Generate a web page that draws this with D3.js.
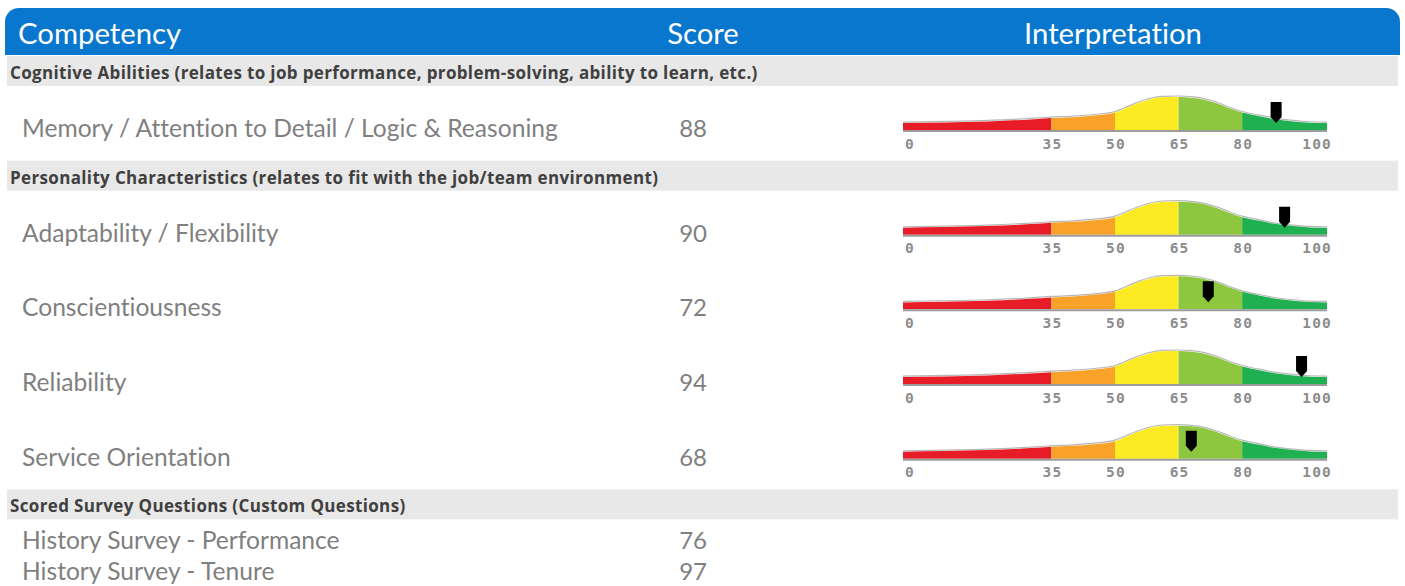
<!DOCTYPE html>
<html>
<head>
<meta charset="utf-8">
<script src="https://cdn.jsdelivr.net/npm/d3@7"></script>
<style>
  body { margin: 0; background: #fff; }
  svg { display: block; }
  text { font-variant-ligatures: none; }
</style>
</head>
<body>
<svg id="chart"></svg>
<script>
// Data
const headers = ["Competency", "Score", "Interpretation"];
const sections = [
    "Cognitive Abilities (relates to job performance, problem-solving, ability to learn, etc.)",
    "Personality Characteristics (relates to fit with the job/team environment)",
    "Scored Survey Questions (Custom Questions)"
];
const competencies = [
    "Memory / Attention to Detail / Logic & Reasoning",
    "Adaptability / Flexibility",
    "Conscientiousness",
    "Reliability",
    "Service Orientation",
    "History Survey - Performance",
    "History Survey - Tenure"
];
const scores = [88, 90, 72, 94, 68, 76, 97];
const sectionOf = [0, 1, 1, 1, 1, 2, 2];
const hasGauge = [true, true, true, true, true, false, false];

// Interpretation scale: band breaks (also the tick labels) and colours
const bandBreaks = [0, 35, 50, 65, 80, 100];
const bandColors = ["#e81c26", "#f8a229", "#fcea22", "#8dc63f", "#1fb052"];

// Distribution curve behind the gauge (score, relative height in % of peak)
const curveScore = [0, 10, 20, 30, 35, 40, 45, 50, 52, 54, 56, 58, 61, 65, 68, 71, 74, 77, 80, 84, 88, 92, 96, 100];
const curveHeight = [21, 23, 26, 32, 36, 39, 44, 53, 63, 74, 84, 92, 99, 100, 98, 92, 81, 66, 53, 42, 32, 26, 22, 21];

// Set up the SVG canvas
const width = 1405;
const height = 586;

const svg = d3.select("#chart")
    .attr("width", width)
    .attr("height", height);

const font = "Lato, 'Open Sans', sans-serif";

// Header bar with rounded top corners
const hx0 = 5, hx1 = 1400, hy0 = 8, hy1 = 55, r = 14;
svg.append("path")
    .attr("d", `M${hx0},${hy1} V${hy0 + r} A${r},${r} 0 0 1 ${hx0 + r},${hy0} H${hx1 - r} A${r},${r} 0 0 1 ${hx1},${hy0 + r} V${hy1} Z`)
    .attr("fill", "#0877cd");

const headerX = [18, 703, 1113];
svg.selectAll(".header")
    .data(headers)
    .enter().append("text")
    .attr("class", "header")
    .attr("x", (d, i) => headerX[i])
    .attr("y", 44)
    .attr("text-anchor", (d, i) => i === 0 ? "start" : "middle")
    .attr("fill", "#fff")
    .style("font-family", font)
    .style("font-size", "29.3px")
    .text(d => d);

// Scales for the gauges
const x = d3.scaleLinear().domain([0, 100]).range([903, 1327]);
const h = d3.scaleLinear().domain([0, 100]).range([0, 33]);

const curve = curveScore.map((s, i) => [s, curveHeight[i]]);

const area = d3.area()
    .x(d => x(d[0]))
    .y0(0)
    .y1(d => -h(d[1]))
    .curve(d3.curveMonotoneX);

const line = d3.line()
    .x(d => x(d[0]))
    .y(d => -h(d[1]))
    .curve(d3.curveMonotoneX);

// One clip rect per colour band
const defs = svg.append("defs");
bandColors.forEach((c, i) => {
    defs.append("clipPath")
        .attr("id", "band" + i)
        .append("rect")
        .attr("x", x(bandBreaks[i]))
        .attr("y", -60)
        .attr("width", x(bandBreaks[i + 1]) - x(bandBreaks[i]))
        .attr("height", 62);
});

function drawGauge(base, score) {
    const g = svg.append("g").attr("transform", `translate(0,${base})`);

    // faint outline above the curve
    g.append("path")
        .attr("d", line(curve))
        .attr("transform", "translate(0,-1)")
        .attr("fill", "none")
        .attr("stroke", "#b8b8b8")
        .attr("stroke-width", 1.2);

    g.selectAll(".seg")
        .data(bandColors)
        .enter().append("path")
        .attr("class", "seg")
        .attr("d", area(curve))
        .attr("clip-path", (d, i) => `url(#band${i})`)
        .attr("fill", d => d);

    // base line
    g.append("line")
        .attr("x1", x(0)).attr("x2", x(100))
        .attr("y1", 1).attr("y2", 1)
        .attr("stroke", "#9c9c9c")
        .attr("stroke-width", 2);

    g.selectAll(".tick")
        .data(bandBreaks)
        .enter().append("text")
        .attr("class", "tick")
        .attr("x", (d, i) => x(d) + (i === 0 ? 2 : i === bandBreaks.length - 1 ? 5 : 1))
        .attr("y", 18.5)
        .attr("text-anchor", (d, i) => i === 0 ? "start" : i === bandBreaks.length - 1 ? "end" : "middle")
        .attr("fill", "#8c8c8c")
        .style("font-family", "'DejaVu Sans Mono', monospace")
        .style("font-weight", "bold")
        .style("font-size", "14.5px")
        .style("letter-spacing", "1.2px")
        .text(d => d);

    // pointer marker
    const mx = x(score), top = -28;
    g.append("path")
        .attr("d", `M${mx - 5.5},${top} H${mx + 5.5} V${top + 15} L${mx},${top + 21} L${mx - 5.5},${top + 15} Z`)
        .attr("fill", "#000");
}

// Walk down the table
let y = 56;
let current = -1;
competencies.forEach((name, i) => {
    if (sectionOf[i] !== current) {
        current = sectionOf[i];
        svg.append("rect")
            .attr("x", 7)
            .attr("y", y)
            .attr("width", 1391)
            .attr("height", 30)
            .attr("fill", "#e8e8e8");
        svg.append("text")
            .attr("x", 10)
            .attr("y", y + 23)
            .attr("fill", "#404040")
            .style("font-family", "'Open Sans', sans-serif")
            .style("font-weight", "bold")
            .style("font-size", "17px")
            .style("letter-spacing", "0.35px")
            .text(sections[current]);
        y += 30;
    }
    const rowH = hasGauge[i] ? 74.67 : 31;
    const base = y + (hasGauge[i] ? 51 : 30);

    svg.append("text")
        .attr("x", 22)
        .attr("y", base)
        .attr("fill", "#7f7f7f")
        .style("font-family", font)
        .style("font-size", "24.6px")
        .text(name);

    svg.append("text")
        .attr("x", 707)
        .attr("y", base)
        .attr("text-anchor", "end")
        .attr("fill", "#7f7f7f")
        .style("font-family", font)
        .style("font-size", "24px")
        .text(scores[i]);

    if (hasGauge[i]) drawGauge(base - 7, scores[i]);
    y += rowH;
});
</script>
</body>
</html>
